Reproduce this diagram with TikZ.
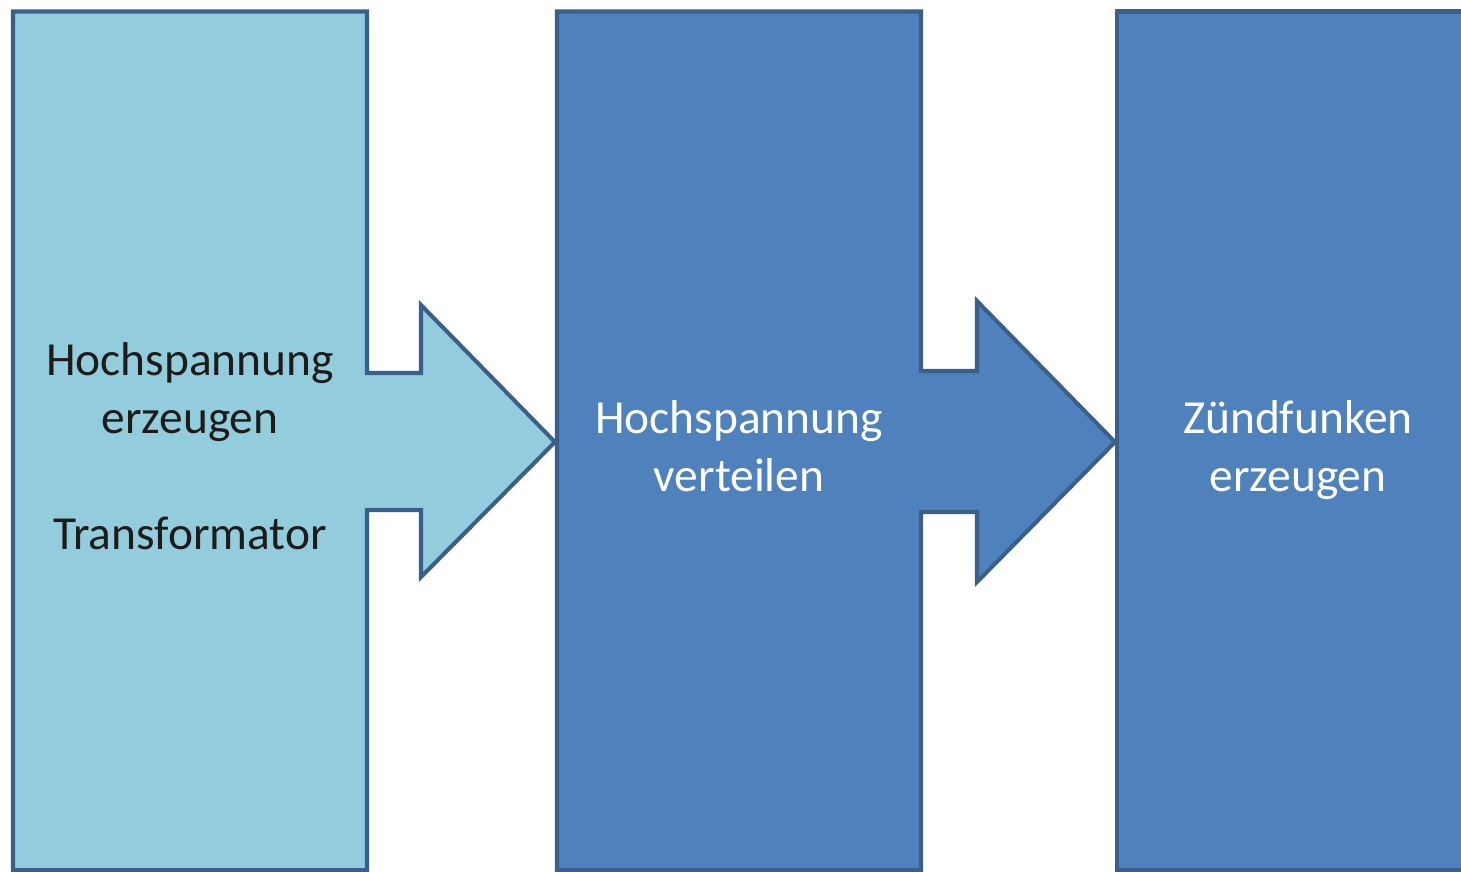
\documentclass[tikz,border=0pt]{standalone}
\usepackage{fontspec}
\setmainfont{Carlito}
\usetikzlibrary{positioning, calc}
\definecolor{zsline}{RGB}{59,95,139}
\definecolor{zslight}{RGB}{147,205,221}
\definecolor{zsblue}{RGB}{79,129,189}
\definecolor{zstext}{RGB}{30,28,24}

\begin{document}
\begin{tikzpicture}[
  block/.style={draw=zsline, line width=1.15pt, line join=miter},
  stage/.style={align=center, inner sep=0pt, font=\fontsize{13.5}{16.5}\selectfont}
]
\useasboundingbox (0,0) rectangle (14.61,-8.71);
\clip (0,0) rectangle (14.61,-8.71);

% ignition chain: three stages, the first two with an arrow to the next
\draw[block, fill=zslight] (0.13,-0.115) -- (3.67,-0.115) -- (3.67,-3.73) -- (4.21,-3.73)
  -- (4.21,-3.05) -- (5.55,-4.42) -- (4.21,-5.77) -- (4.21,-5.10) -- (3.67,-5.10)
  -- (3.67,-8.70) -- (0.13,-8.70) -- cycle;
\draw[block, fill=zsblue] (5.57,-0.115) -- (9.21,-0.115) -- (9.21,-3.71) -- (9.77,-3.71)
  -- (9.77,-3.01) -- (11.15,-4.42) -- (9.77,-5.82) -- (9.77,-5.12) -- (9.21,-5.12)
  -- (9.21,-8.70) -- (5.57,-8.70) -- cycle;
\draw[block, fill=zsblue] (11.17,-0.115) rectangle (14.79,-8.70);

% stage texts
\node[stage, text=zstext] (erzeugen) at (1.90,-4.46) {Hochspannung\\erzeugen\\[16.5pt]Transformator};
\node[stage, text=white] (verteilen) at (7.39,-4.46) {Hochspannung\\verteilen};
\node[stage, text=white] (funken) at (12.98,-4.505) {Zündfunken\\erzeugen};
\end{tikzpicture}
\end{document}
